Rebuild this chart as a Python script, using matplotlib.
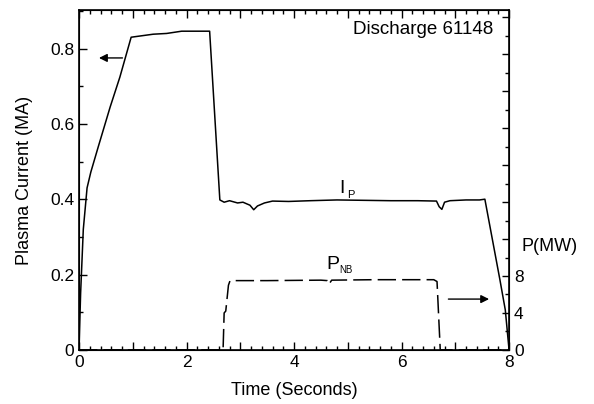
import matplotlib.pyplot as plt
import numpy as np
from matplotlib.ticker import MultipleLocator, FixedLocator, FuncFormatter

plt.rcParams['font.family'] = ['Liberation Sans', 'DejaVu Sans']

# plasma current trace (s, MA)
ip_time = [0.0, 0.03, 0.08, 0.15, 0.22, 0.36, 0.58, 0.76, 0.97, 1.38, 1.63, 1.91, 2.43,
           2.62, 2.7, 2.8, 2.95, 3.05, 3.18, 3.25, 3.32, 3.45, 3.6, 3.9, 4.3, 4.8, 5.3,
           5.8, 6.3, 6.65, 6.7, 6.75, 6.8, 6.9, 7.2, 7.45, 7.55, 7.83, 7.93, 8.0]
ip_value = [0.0, 0.15, 0.32, 0.43, 0.472, 0.54, 0.645, 0.724, 0.83, 0.838, 0.84, 0.846, 0.846,
            0.398, 0.392, 0.396, 0.39, 0.392, 0.384, 0.372, 0.382, 0.39, 0.395, 0.394, 0.396, 0.398, 0.397,
            0.396, 0.396, 0.395, 0.38, 0.373, 0.392, 0.396, 0.398, 0.398, 0.4, 0.186, 0.106, 0.0]

# neutral beam power (s, MW)
pnb_time = [0.0, 2.68, 2.70, 2.73, 2.78, 2.81, 3.5, 4.5, 4.62, 4.65, 4.7, 5.5, 6.6, 6.66, 6.72, 8.0]
pnb_value = [0.0, 0.0, 4.0, 4.2, 7.0, 7.5, 7.5, 7.55, 7.5, 7.1, 7.55, 7.6, 7.6, 7.4, 0.0, 0.0]

fig = plt.figure(figsize=(5.94, 4.04), dpi=100)
ax = fig.add_axes([0.133, 0.134, 0.724, 0.841])

ax.plot(ip_time, ip_value, color='black', linewidth=1.1)
ax.set_xlim(0, 8)
ax.set_ylim(0, 0.902)

ax.xaxis.set_major_locator(MultipleLocator(1))
ax.xaxis.set_minor_locator(MultipleLocator(0.2))
ax.xaxis.set_major_formatter(FuncFormatter(lambda v, p: '%d' % v if int(round(v)) % 2 == 0 else ''))
ax.yaxis.set_major_locator(FixedLocator([0, 0.2, 0.4, 0.6, 0.8]))
ax.yaxis.set_minor_locator(MultipleLocator(0.1))
ax.yaxis.set_major_formatter(FuncFormatter(lambda v, p: '0' if v == 0 else '%.1f' % v))
ax.tick_params(which='both', direction='in', top=True, labelsize=12.5)
ax.tick_params(which='major', length=6, width=1)
ax.tick_params(which='minor', length=3, width=1)
for s in ax.spines.values():
  s.set_linewidth(1.2)

ax.set_xlabel('Time (Seconds)', fontsize=13, labelpad=9)
ax.set_ylabel('Plasma Current (MA)', fontsize=13, labelpad=12)

ax2 = ax.twinx()
ax2.plot(pnb_time, pnb_value, color='black', linewidth=1.1, dashes=(12, 4))
ax2.set_ylim(0, 36.8)
ax2.yaxis.set_major_locator(MultipleLocator(4))
ax2.yaxis.set_minor_locator(MultipleLocator(2))
ax2.yaxis.set_major_formatter(FuncFormatter(lambda v, p: '%d' % v if v <= 8 else ''))
ax2.tick_params(which='both', direction='in', labelsize=12.5)
ax2.tick_params(which='major', length=5, width=1)
ax2.tick_params(which='minor', length=3, width=1)
ax2.text(1.03, 0.303, 'P(MW)', transform=ax.transAxes, fontsize=13, ha='left', va='center')

ax.text(7.7, 0.85, 'Discharge 61148', fontsize=13.5, ha='right', va='center')
ax.text(4.9, 0.405, 'I', fontsize=14, ha='center', va='bottom')
ax.text(5.06, 0.398, 'P', fontsize=8, ha='center', va='bottom')
ax.text(4.73, 0.203, 'P', fontsize=14, ha='center', va='bottom')
ax.text(4.97, 0.2, 'NB', fontsize=7, ha='center', va='bottom')

ax.annotate('', xy=(0.32, 0.775), xytext=(0.86, 0.775),
            arrowprops=dict(arrowstyle='-|>', color='black', lw=1, mutation_scale=12))
ax2.annotate('', xy=(7.68, 5.5), xytext=(6.82, 5.5),
             arrowprops=dict(arrowstyle='-|>', color='black', lw=1, mutation_scale=12))

fig.savefig('out.png', dpi=100)
